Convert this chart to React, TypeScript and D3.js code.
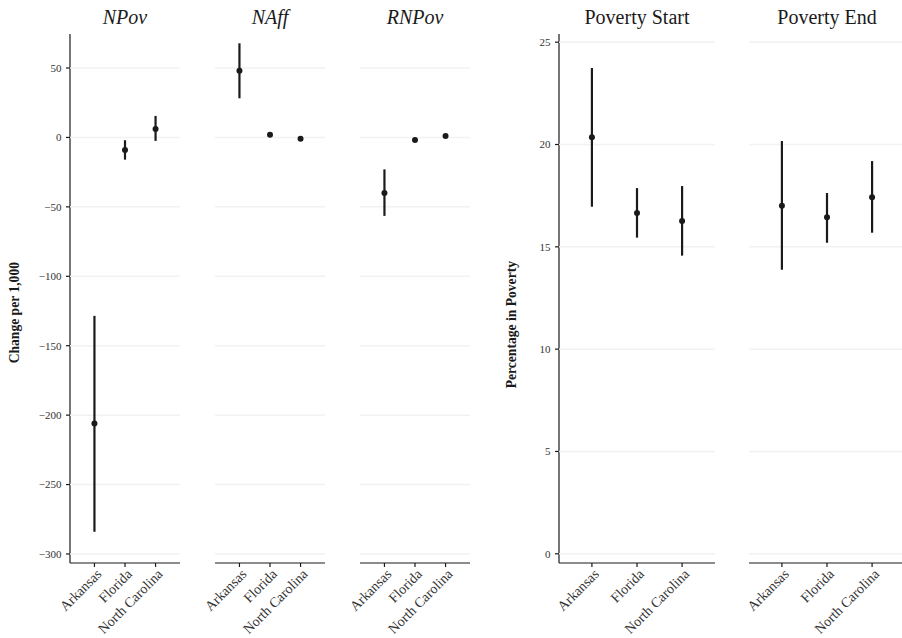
import React, { useEffect, useRef } from 'react'
import * as d3 from 'd3'

const states = ['Arkansas', 'Florida', 'North Carolina']

// change per 1,000: [estimate, lower, upper]
const npov = [[-206, -284, -128.5], [-9, -16, -2], [6, -2.5, 15.5]]
const naff = [[48, 28.2, 67.8], [2, 2, 2], [-1, -1, -1]]
const rnpov = [[-40, -56.5, -23], [-1.8, -1.8, -1.8], [1, 1, 1]]

// percentage in poverty: [estimate, lower, upper]
const povStart = [[20.35, 16.96, 23.74], [16.65, 15.45, 17.87], [16.26, 14.57, 17.97]]
const povEnd = [[17.01, 13.88, 20.17], [16.44, 15.2, 17.63], [17.42, 15.69, 19.19]]

const leftTicks = [50, 0, -50, -100, -150, -200, -250, -300]
const rightTicks = [25, 20, 15, 10, 5, 0]

const leftPanels = [
  { title: 'NPov', rows: npov },
  { title: 'NAff', rows: naff },
  { title: 'RNPov', rows: rnpov },
]
const rightPanels = [
  { title: 'Poverty Start', rows: povStart },
  { title: 'Poverty End', rows: povEnd },
]

const FONT = '"Liberation Serif", "DejaVu Serif", serif'

const App = () => {
  const ref = useRef(null)

  useEffect(() => {
    const svg = d3.select(ref.current)
    svg.selectAll('*').remove()

    const drawChart = ({ panels, x0s, panelW, pad, domain, ticks, yTop, yBottom, ylab, ylabX, ylabTop, italic, fmt }) => {
      const y = d3.scaleLinear().domain(domain).range([yBottom, yTop])

      // y axis
      const ax = svg.append('g').attr('transform', `translate(${x0s[0]},0)`)
      ax.append('line').attr('x1', 0).attr('x2', 0).attr('y1', yTop).attr('y2', yBottom)
        .attr('stroke', '#1a1a1a').attr('stroke-width', 1.2)
      ticks.forEach(t => {
        ax.append('line').attr('x1', -4).attr('x2', 0).attr('y1', y(t)).attr('y2', y(t))
          .attr('stroke', '#1a1a1a').attr('stroke-width', 1.2)
        ax.append('text').text(fmt(t))
          .attr('x', -8.5).attr('y', y(t)).attr('dy', '0.35em')
          .attr('text-anchor', 'end').attr('font-size', 11).attr('fill', '#333')
          .attr('font-family', FONT)
      })

      // ylab, its end sits at ylabTop
      svg.append('text').text(ylab)
        .attr('transform', `translate(${ylabX},${ylabTop}) rotate(-90)`)
        .attr('text-anchor', 'end').attr('font-size', 13.6).attr('font-weight', 'bold')
        .attr('font-family', FONT).attr('fill', '#1a1a1a')

      panels.forEach((p, i) => {
        const g = svg.append('g').attr('transform', `translate(${x0s[i]},0)`)
        const x = d3.scalePoint().domain(states).range([0, panelW]).padding(pad)

        ticks.forEach(t => {
          g.append('line').attr('x1', 0).attr('x2', panelW).attr('y1', y(t)).attr('y2', y(t))
            .attr('stroke', '#f2f2f2').attr('stroke-width', 1.5)
        })

        // x axis
        g.append('line').attr('x1', 0).attr('x2', panelW).attr('y1', yBottom).attr('y2', yBottom)
          .attr('stroke', '#1a1a1a').attr('stroke-width', 1.2)
        states.forEach(s => {
          g.append('line').attr('x1', x(s)).attr('x2', x(s)).attr('y1', yBottom).attr('y2', yBottom + 4)
            .attr('stroke', '#1a1a1a').attr('stroke-width', 1.2)
          g.append('text').text(s)
            .attr('transform', `translate(${x(s) + 1},${yBottom + 5}) rotate(-45)`)
            .attr('text-anchor', 'end').attr('dy', '0.7em')
            .attr('font-size', 14).attr('fill', '#333').attr('font-family', FONT)
        })

        g.append('text').text(p.title)
          .attr('x', panelW / 2).attr('y', 24)
          .attr('text-anchor', 'middle').attr('font-size', 20)
          .attr('font-style', italic ? 'italic' : 'normal')
          .attr('font-family', FONT).attr('fill', '#1a1a1a')

        p.rows.forEach((r, j) => {
          const cx = x(states[j])
          if (r[2] - r[1] > 0.01) {
            g.append('line').attr('x1', cx).attr('x2', cx).attr('y1', y(r[1])).attr('y2', y(r[2]))
              .attr('stroke', '#1a1a1a').attr('stroke-width', 2.2)
          }
          g.append('circle').attr('cx', cx).attr('cy', y(r[0])).attr('r', 3)
            .attr('fill', '#1a1a1a')
        })
      })
    }

    drawChart({
      panels: leftPanels,
      x0s: [70, 215, 360],
      panelW: 110,
      pad: 0.8,
      domain: [-306.5, 74.5],
      ticks: leftTicks,
      yTop: 34,
      yBottom: 563,
      ylab: 'Change per 1,000',
      ylabX: 19,
      ylabTop: 262,
      italic: true,
      fmt: d => (d < 0 ? '\u2212' + Math.abs(d) : String(d)),
    })

    drawChart({
      panels: rightPanels,
      x0s: [559, 749],
      panelW: 156,
      pad: 0.73,
      domain: [-0.45, 25.4],
      ticks: rightTicks,
      yTop: 34,
      yBottom: 563,
      ylab: 'Percentage in Poverty',
      ylabX: 516,
      ylabTop: 261,
      italic: false,
      fmt: d => String(d),
    })
  }, [])

  return (
    <svg
      ref={ref}
      width={902}
      height={638}
      style={{ position: 'absolute', left: 0, top: 0, background: '#fff' }}
    />
  )
}

export default App
